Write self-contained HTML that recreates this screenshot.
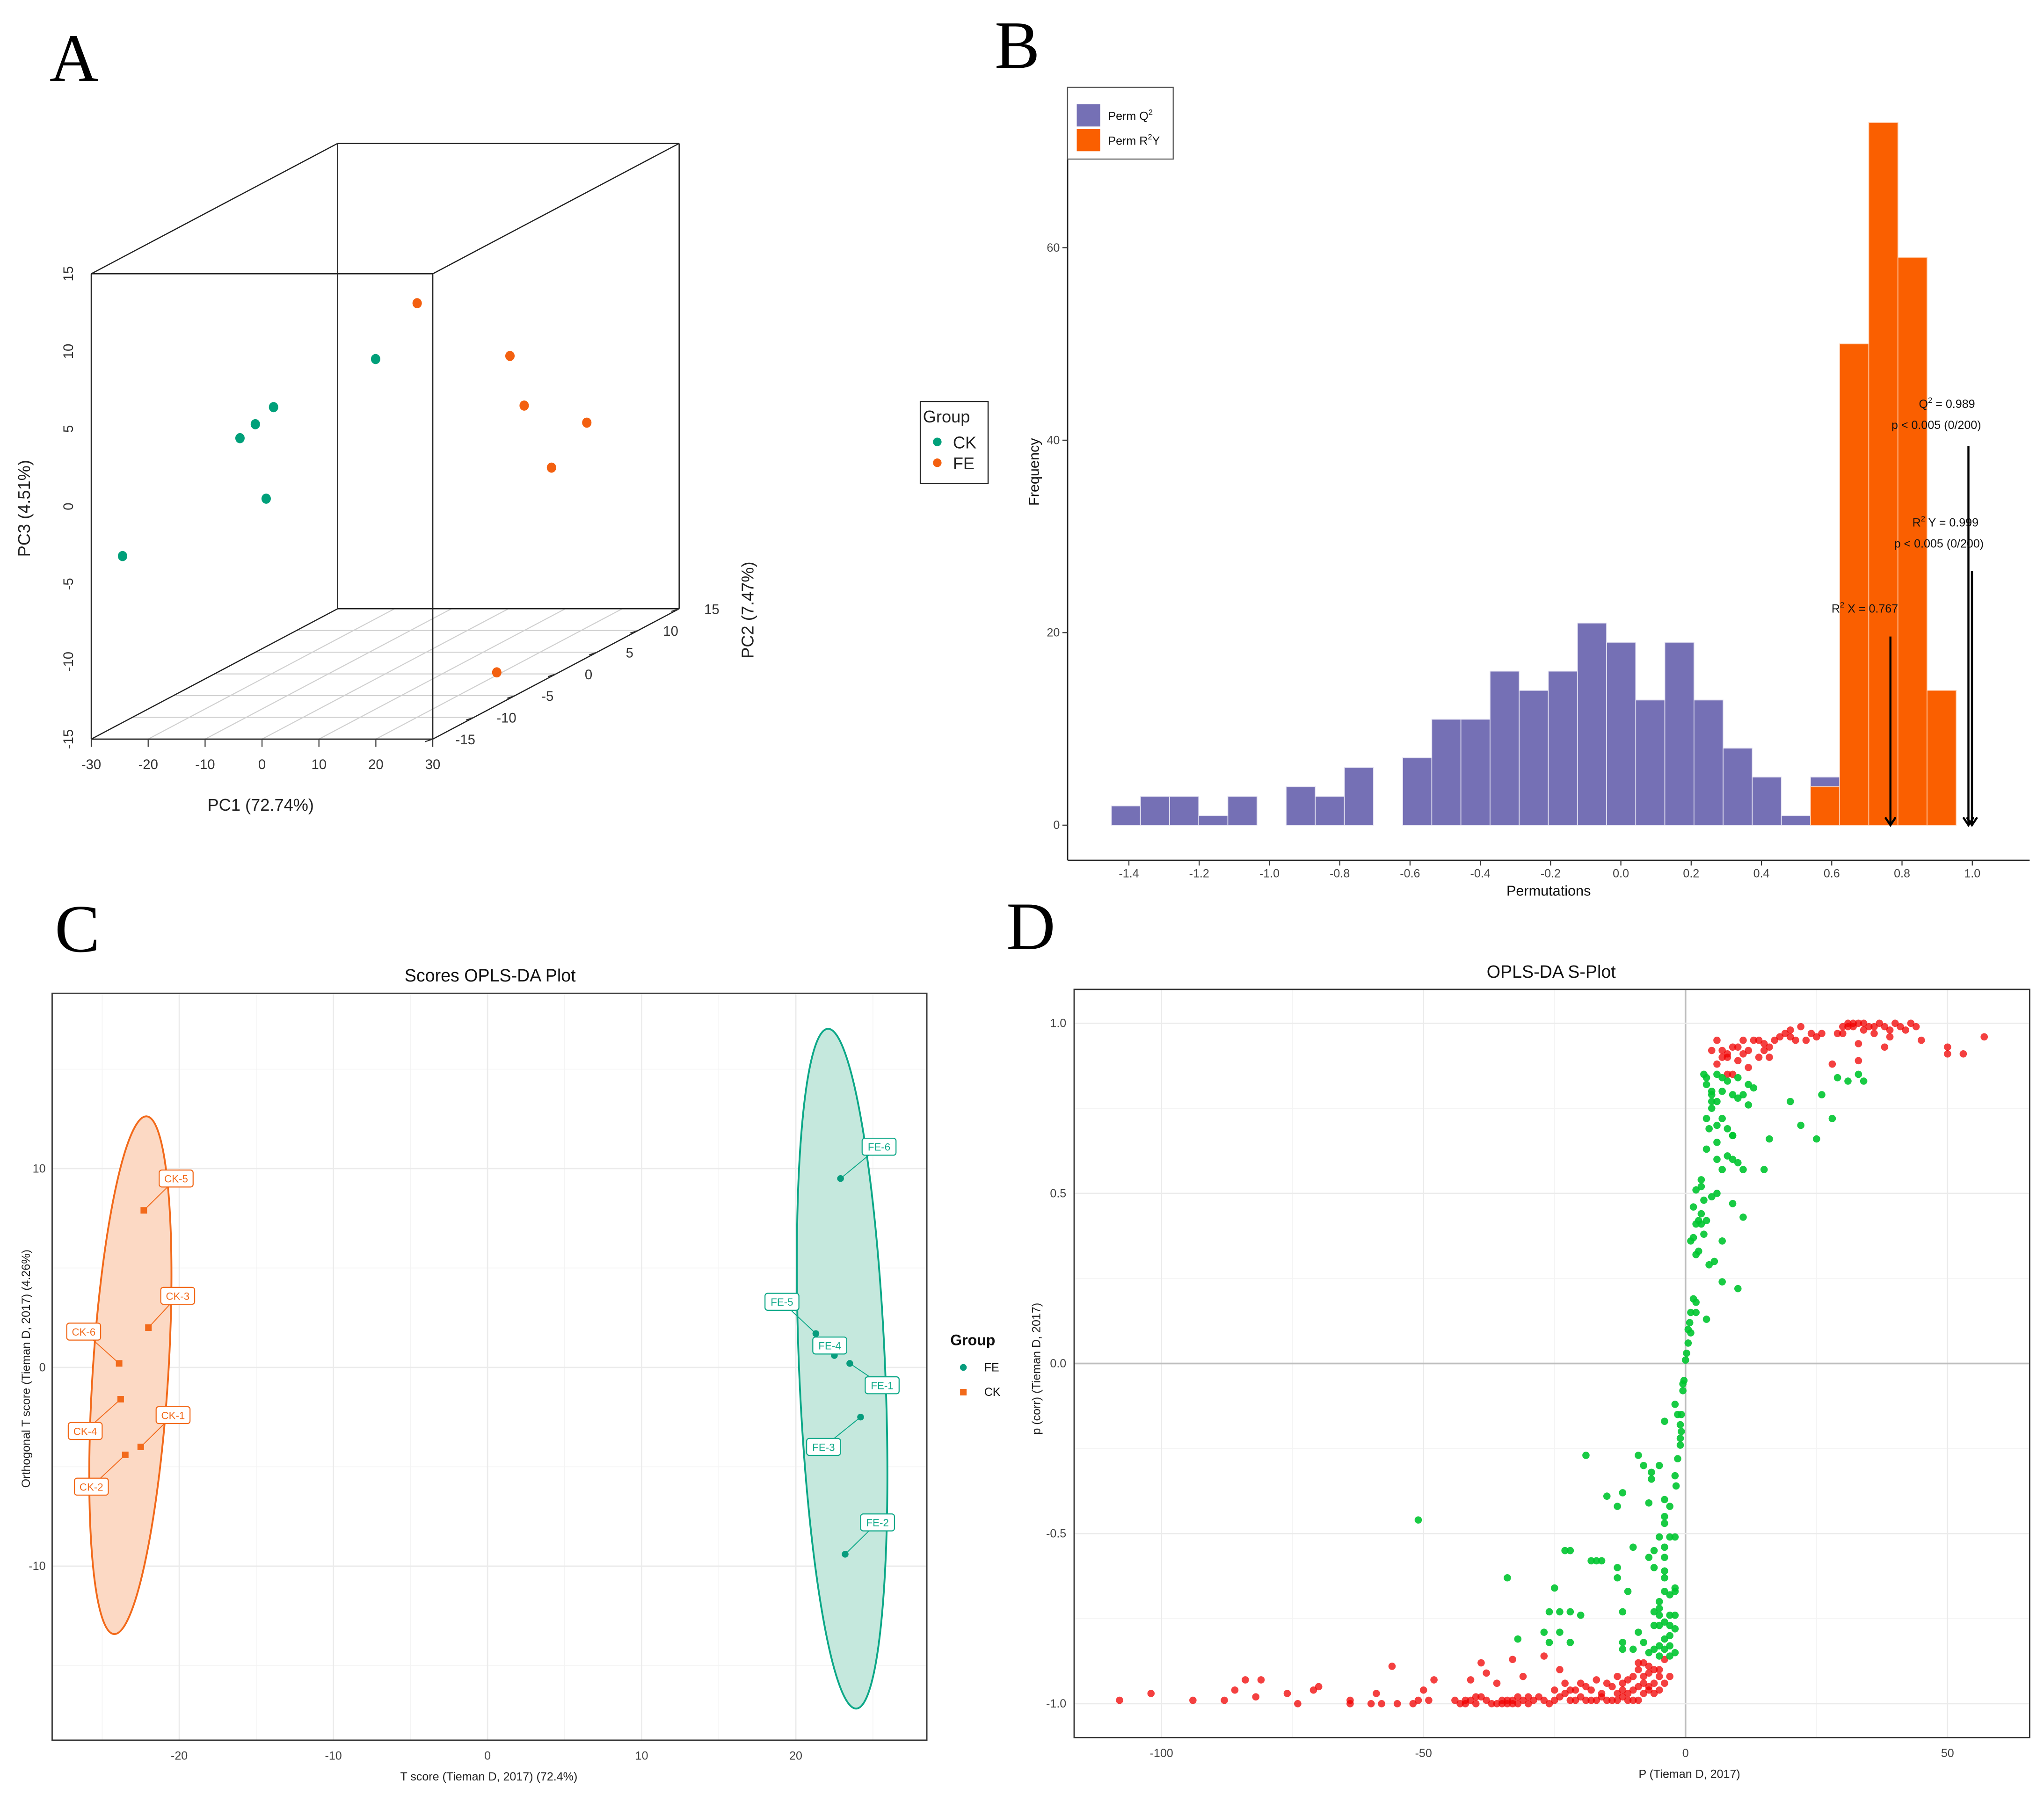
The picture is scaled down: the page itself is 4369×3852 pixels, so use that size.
<!DOCTYPE html>
<html><head><meta charset="utf-8"><style>
html,body{margin:0;padding:0;background:#fff;}
svg{display:block;font-family:"Liberation Sans",sans-serif;}
</style></head><body>
<svg id="fig" width="4369" height="3852" viewBox="0 0 1568 1382.4" xmlns="http://www.w3.org/2000/svg"></svg>
<script>
// ---------- DATA ----------
// Panel A (PCA 3D)
const pcaGroups = ["CK","CK","CK","CK","CK","CK","FE","FE","FE","FE","FE","FE"];
const pc1Vals = [-24.5,-18.3,-15.6,-12.4,-13.7,-8.9,-1.6,14.7,17.2,28.2,22,19.6];
const pc2Vals = [-15,-5,-5,-5,-5,5,5,5,5,5,5,0];
const pc3Vals = [-3.2,1.6,2.5,3.6,-2.3,3.9,7.5,4.1,0.9,-0.2,-3.1,-14.9];
const pc1Ticks = [-30,-20,-10,0,10,20,30];
const pc2Ticks = [-15,-10,-5,0,5,10,15];
const pc3Ticks = [-15,-10,-5,0,5,10,15];
// Panel B (permutation histogram)
const binStart = -1.45, binWidth = 0.0829;
const permQ2Counts = [2,3,3,1,3,0,4,3,6,0,7,11,11,16,14,16,21,19,13,19,13,8,5,1,5];
const permR2YCounts = [4,50,73,59,14];
const permR2YStartBin = 24;
const permXTicks = [-1.4,-1.2,-1.0,-0.8,-0.6,-0.4,-0.2,0.0,0.2,0.4,0.6,0.8,1.0];
const permYTicks = [0,20,40,60];
const arrowX = [0.767,0.989,0.999];
const arrowTop = [19.6,39.4,26.4];
// Panel C (scores)
const scoreLabels = ["CK-1","CK-2","CK-3","CK-4","CK-5","CK-6","FE-1","FE-2","FE-3","FE-4","FE-5","FE-6"];
const scoreT = [-22.5,-23.5,-22,-23.8,-22.3,-23.9,23.5,23.2,24.2,22.5,21.3,22.9];
const scoreO = [-4.0,-4.4,2.0,-1.6,7.9,0.2,0.2,-9.4,-2.5,0.6,1.7,9.5];
const labelT = [-20.4,-25.7,-20.1,-26.1,-20.2,-26.2,25.6,25.3,21.8,22.2,19.1,25.4];
const labelO = [-2.4,-6.0,3.6,-3.2,9.5,1.8,-0.9,-7.8,-4.0,1.1,3.3,11.1];
const cXTicks = [-20,-10,0,10,20];
const cYTicks = [-10,0,10];
// Panel D (S-plot)
const sRed = [[-108,-0.99],[-102,-0.97],[-94,-0.99],[-88,-0.99],[-86,-0.96],[-84,-0.93],[-82,-0.98],[-81,-0.93],[-76,-0.97],[-74,-1.0],[-71,-0.96],[-70,-0.95],[-64,-0.99],[-64,-1.0],[-60,-1.0],[-59,-0.97],[-58,-1.0],[-56,-0.89],[-55,-1.0],[-52,-1.0],[-51,-0.99],[-50,-0.96],[-49,-0.99],[-48,-0.93],[-44,-0.99],[-43,-1.0],[-42,-0.99],[-41,-0.93],[-40,-1.0],[-39,-0.98],[-38,-0.91],[-37,-1.0],[-36,-0.94],[-35,-0.99],[-34,-1.0],[-33,-0.99],[-32,-0.98],[-31,-0.99],[-30,-1.0],[-29,-0.99],[-28,-0.98],[-26,-1.0],[-25,-0.96],[-24,-0.9],[-23,-0.97],[-22,-0.99],[-21,-0.96],[-20,-0.98],[-19,-0.95],[-18,-0.99],[-17,-0.93],[-16,-0.97],[-15,-0.99],[-14,-0.95],[-13,-0.92],[-12,-0.98],[-11,-0.93],[-10,-0.96],[-9,-0.88],[-8,-0.92],[-7,-0.95],[-6,-0.9],[-5,-0.96],[-4,-0.87],[-3,-0.92],[-33,-0.87],[-27,-0.86],[-31,-0.92],[-39,-0.88],[-42,-1.0],[-41,-0.99],[-40,-0.98],[-38,-0.99],[-36,-1.0],[-35,-1.0],[-34,-0.99],[-33,-1.0],[-32,-1.0],[-30,-0.98],[-27,-0.99],[-25,-0.99],[-24,-0.98],[-23,-0.94],[-22,-0.96],[-21,-0.99],[-20,-0.94],[-19,-0.99],[-18,-0.96],[-17,-0.99],[-16,-0.98],[-15,-0.94],[-14,-0.99],[-13,-0.97],[-12,-0.94],[-11,-0.99],[-10,-0.92],[-9,-0.95],[-8,-0.97],[-7,-0.91],[-6,-0.94],[-5,-0.92],[-4,-0.94],[-12,-0.96],[-11,-0.97],[-10,-0.99],[-9,-0.9],[-8,-0.88],[-7,-0.96],[-6,-0.97],[-9,-0.99],[-13,-0.99],[-8,-0.94],[-7,-0.89],[-5,-0.9],
[5,0.92],[6,0.95],[7,0.9],[8,0.91],[9,0.85],[10,0.93],[11,0.95],[12,0.92],[13,0.95],[14,0.9],[15,0.92],[16,0.93],[17,0.95],[18,0.96],[19,0.97],[20,0.96],[22,0.99],[23,0.95],[24,0.97],[26,0.97],[28,0.88],[29,0.97],[30,0.99],[31,1.0],[32,0.99],[33,1.0],[34,0.98],[35,0.99],[36,0.97],[37,1.0],[38,0.99],[39,0.98],[40,1.0],[41,0.99],[42,0.98],[43,1.0],[45,0.95],[50,0.93],[53,0.91],[57,0.96],[33,0.94],[33,0.89],[38,0.93],[8,0.85],[10,0.89],[16,0.9],[12,0.87],[6,0.88],[9,0.93],[14,0.95],[21,0.95],[25,0.96],[39,0.96],[31,0.99],[32,1.0],[34,1.0],[36,0.99],[44,0.99],[50,0.91],[7,0.92],[8,0.9],[11,0.91],[15,0.94],[20,0.98],[30,0.97]];
const sGreen = [[3.5,0.85],[4,0.82],[5,0.8],[6,0.77],[7,0.8],[5,0.75],[4,0.72],[4.5,0.69],[6,0.7],[7,0.72],[8,0.69],[9,0.67],[6,0.65],[4,0.63],[6,0.6],[7,0.57],[9,0.6],[11,0.57],[3,0.54],[3,0.52],[2,0.51],[3.5,0.48],[5,0.49],[6,0.5],[9,0.47],[11,0.43],[1.5,0.46],[2.5,0.42],[3,0.44],[1.5,0.37],[3.5,0.38],[2.5,0.33],[7,0.36],[4.5,0.29],[5.5,0.3],[7,0.24],[10,0.22],[1.5,0.19],[2,0.18],[1,0.15],[2,0.15],[4,0.13],[0.5,0.1],[1,0.09],[0.5,0.06],[0.2,0.03],[0,0.01],[-0.3,-0.05],[-0.5,-0.06],[-2,-0.12],[-1.5,-0.15],[-0.8,-0.15],[-0.8,-0.2],[-1,-0.22],[-1,-0.24],[-1.5,-0.28],[-2,-0.33],[-1.8,-0.36],[-4,-0.17],[-5,-0.3],[-6.5,-0.32],[-6.5,-0.34],[-9,-0.27],[-4,-0.4],[-3,-0.42],[-4,-0.45],[-4,-0.47],[-2,-0.51],[-3,-0.51],[-5,-0.51],[-4,-0.54],[-4,-0.57],[-4,-0.61],[-4,-0.63],[-2,-0.67],[-2,-0.66],[-3,-0.68],[-4,-0.67],[-5,-0.7],[-5,-0.72],[-6,-0.73],[-5,-0.74],[-3,-0.74],[-2,-0.74],[-6,-0.77],[-5,-0.77],[-2,-0.78],[-3,-0.8],[-4,-0.81],[-5,-0.83],[-4,-0.84],[-2,-0.85],[-3,-0.86],[-6,-0.84],[-7,-0.85],[-8,-0.82],[-9,-0.79],[-6,-0.6],[-7,-0.57],[-6,-0.55],[-7,-0.41],[-8,-0.3],[-12,-0.38],[-13,-0.42],[-15,-0.39],[-19,-0.27],[-10,-0.54],[-13,-0.6],[-13,-0.63],[-11,-0.67],[-12,-0.73],[-16,-0.58],[-17,-0.58],[-18,-0.58],[-22,-0.55],[-23,-0.55],[-25,-0.66],[-26,-0.73],[-24,-0.73],[-22,-0.73],[-20,-0.74],[-27,-0.79],[-26,-0.82],[-24,-0.79],[-22,-0.82],[-34,-0.63],[-32,-0.81],[-12,-0.82],[-12,-0.84],[-10,-0.84],[-51,-0.46],[10,0.84],[12,0.82],[11,0.79],[12,0.76],[13,0.81],[16,0.66],[15,0.57],[20,0.77],[22,0.7],[25,0.66],[26,0.79],[28,0.72],[29,0.84],[31,0.83],[33,0.85],[34,0.83],[9,0.79],[10,0.78],[8,0.83],[7,0.84],[6,0.85],[5,0.79],[8,0.61],[9,0.67],[10,0.59],[4,0.84],[5,0.77],[2,0.41],[3,0.41],[4,0.42],[1,0.36],[2,0.32],[0.8,0.12],[-0.5,-0.08],[-1,-0.18],[-3,-0.77],[-4,-0.76],[-3,-0.83],[-5,-0.86]];
const dXTicks = [-100,-50,0,50];
const dYTicks = [-1.0,-0.5,0.0,0.5,1.0];

// ---------- HELPERS ----------
const NS = "http://www.w3.org/2000/svg";
const svg = document.getElementById('fig');
function mk(tag, attrs, parent, text){
  const e = document.createElementNS(NS, tag);
  for (const k in attrs) e.setAttribute(k, attrs[k]);
  if (text !== undefined) e.textContent = text;
  (parent || svg).appendChild(e);
  return e;
}
function grp(name){
  const g = mk('g', {});
  
  
  return g;
}
let el;

// ---------- PANEL LETTERS ----------
const letters = [["A",38,62],["B",763,52],["C",42,730],["D",772,728]];
const lettersG = grp('panel-letters');
letters.forEach(l => {
  el = mk('text', {x:l[1], y:l[2], 'font-family':'"Liberation Serif",serif', 'font-size':52, fill:'#000'}, lettersG, l[0]);
  
  
});

// ---------- PANEL A ----------
const gA = grp('pca-3d-panel');
function proj(p1,p2,p3){
  const d = (p2+15)/30;
  return [70 + (p1+30)*262/60 + d*189, 567 - (p3+15)*357/30 - d*100];
}
// floor grid
pc1Ticks.forEach(t => {
  const a = proj(t,-15,-15), b = proj(t,15,-15);
  el = mk('line', {x1:a[0],y1:a[1],x2:b[0],y2:b[1],stroke:'#d0d0d0','stroke-width':0.8}, gA);
  
  
});
pc2Ticks.forEach(t => {
  const a = proj(-30,t,-15), b = proj(30,t,-15);
  el = mk('line', {x1:a[0],y1:a[1],x2:b[0],y2:b[1],stroke:'#d0d0d0','stroke-width':0.8}, gA);
  
  
});
// box edges
const corners = [];
[-15,15].forEach(p2 => [-15,15].forEach(p3 => [-30,30].forEach(p1 => corners.push([p1,p2,p3]))));
const edges = [];
for (let i=0;i<8;i++) for (let j=i+1;j<8;j++){
  const a=corners[i], b=corners[j];
  let diff=0; for(let k=0;k<3;k++) if(a[k]!==b[k]) diff++;
  if (diff===1) edges.push([a,b]);
}
edges.forEach(e => {
  const a = proj(...e[0]), b = proj(...e[1]);
  el = mk('line', {x1:a[0],y1:a[1],x2:b[0],y2:b[1],stroke:'#222','stroke-width':0.9}, gA);
  
  
});
// PC1 ticks
pc1Ticks.forEach(t => {
  const a = proj(t,-15,-15);
  el = mk('line', {x1:a[0],y1:a[1],x2:a[0],y2:a[1]+6,stroke:'#333','stroke-width':0.8}, gA);
  
  
  el = mk('text', {x:a[0],y:a[1]+23,'font-size':10.5,'text-anchor':'middle',fill:'#333'}, gA, String(t));
  
  
});
// PC2 ticks
pc2Ticks.forEach(t => {
  const a = proj(30,t,-15);
  el = mk('line', {x1:a[0],y1:a[1],x2:a[0]-6,y2:a[1]+2,stroke:'#333','stroke-width':0.8}, gA);
  
  
  el = mk('text', {x:a[0]+25,y:a[1]+4,'font-size':10.5,'text-anchor':'middle',fill:'#333'}, gA, String(t));
  
  
});
// PC3 ticks
pc3Ticks.forEach(t => {
  const a = proj(-30,-15,t);
  el = mk('text', {x:0,y:0,'font-size':10.5,'text-anchor':'middle',fill:'#333',transform:`translate(${a[0]-14},${a[1]}) rotate(-90)`}, gA, String(t));
  
  
});
el = mk('text', {x:200,y:622,'font-size':13,'text-anchor':'middle',fill:'#222'}, gA, 'PC1 (72.74%)');


el = mk('text', {x:0,y:0,'font-size':13,'text-anchor':'middle',fill:'#222',transform:'translate(23,390) rotate(-90)'}, gA, 'PC3 (4.51%)');


el = mk('text', {x:0,y:0,'font-size':13,'text-anchor':'middle',fill:'#222',transform:'translate(578,468) rotate(-90)'}, gA, 'PC2 (7.47%)');


const pcaColors = {CK:'#00a07a', FE:'#f36010'};
pc1Vals.forEach((v,i) => {
  const p = proj(v, pc2Vals[i], pc3Vals[i]);
  el = mk('ellipse', {cx:p[0],cy:p[1],rx:3.6,ry:3.9,fill:pcaColors[pcaGroups[i]]}, gA);
  
  
});
// legend A
const lgA = grp('pca-legend');
el = mk('rect', {x:706,y:308,width:52,height:63,fill:'#fff',stroke:'#222','stroke-width':0.9}, lgA);


el = mk('text', {x:708,y:324,'font-size':13,fill:'#222'}, lgA, 'Group');


[['CK',340],['FE',356]].forEach(r => {
  el = mk('circle', {cx:719,cy:r[1]-1,r:3.3,fill:pcaColors[r[0]]}, lgA);
  
  
  el = mk('text', {x:731,y:r[1]+4,'font-size':13,fill:'#222'}, lgA, r[0]);
  
  
});

// ---------- PANEL B ----------
const gB = grp('permutation-histogram-panel');
const bx = v => 866 + (v + 1.4) * (1513 - 866) / 2.4;
const by = v => 633 - v * (633 - 190) / 60;
permQ2Counts.forEach((c,i) => {
  if (!c) return;
  const x0 = bx(binStart + i*binWidth), x1 = bx(binStart + (i+1)*binWidth);
  el = mk('rect', {x:x0,y:by(c),width:x1-x0,height:by(0)-by(c),fill:'#7570b5',stroke:'#e6e4f2','stroke-width':0.6}, gB);
  
  
});
permR2YCounts.forEach((c,i) => {
  const k = permR2YStartBin + i;
  const x0 = bx(binStart + k*binWidth), x1 = bx(binStart + (k+1)*binWidth);
  el = mk('rect', {x:x0,y:by(c),width:x1-x0,height:by(0)-by(c),fill:'#fa5f00',stroke:'#ffd0b0','stroke-width':0.6}, gB);
  
  
});
// axes
el = mk('line', {x1:819,y1:67,x2:819,y2:660,stroke:'#222','stroke-width':1}, gB);


el = mk('line', {x1:819,y1:660,x2:1557,y2:660,stroke:'#222','stroke-width':1}, gB);


permXTicks.forEach(t => {
  el = mk('line', {x1:bx(t),y1:660,x2:bx(t),y2:664,stroke:'#333','stroke-width':0.8}, gB);
  
  
  el = mk('text', {x:bx(t),y:673,'font-size':9,'text-anchor':'middle',fill:'#444'}, gB, t.toFixed(1));
  
  
});
permYTicks.forEach(t => {
  el = mk('line', {x1:815,y1:by(t),x2:819,y2:by(t),stroke:'#333','stroke-width':0.8}, gB);
  
  
  el = mk('text', {x:813,y:by(t)+3,'font-size':9,'text-anchor':'end',fill:'#444'}, gB, String(t));
  
  
});
el = mk('text', {x:1188,y:687,'font-size':11,'text-anchor':'middle',fill:'#111'}, gB, 'Permutations');


el = mk('text', {x:0,y:0,'font-size':11,'text-anchor':'middle',fill:'#111',transform:'translate(797,362) rotate(-90)'}, gB, 'Frequency');


arrowX.forEach((v,i) => {
  const x = bx(v);
  el = mk('line', {x1:x,y1:by(arrowTop[i]),x2:x,y2:by(0)-1,stroke:'#000','stroke-width':1.6}, gB);
  
  
  el = mk('path', {d:`M${x-4},${by(0)-6} L${x},${by(0)} L${x+4},${by(0)-6}`,fill:'none',stroke:'#000','stroke-width':1.6}, gB);
  
  
});
const annB = [['Q','2',' = 0.989',1472,313],['p < 0.005 (0/200)','','',1451,329],['R','2',' Y = 0.999',1467,404],['p < 0.005 (0/200)','','',1453,420],['R','2',' X = 0.767',1405,470]];
annB.forEach(a => {
  el = mk('text', {x:a[3],y:a[4],'font-size':9,fill:'#111'}, gB);
  
  
  mk('tspan', {}, el, a[0]);
  if (a[1]) { mk('tspan', {dy:-4,'font-size':6}, el, a[1]); mk('tspan', {dy:4}, el, a[2]); }
});
// legend B
const lgB = grp('permutation-legend');
el = mk('rect', {x:819,y:67,width:81,height:55,fill:'#fff',stroke:'#555','stroke-width':0.8}, lgB);


[['#7570b5','Perm Q',80,'q2'],['#fa5f00','Perm R',99,'r2y']].forEach(r => {
  el = mk('rect', {x:826,y:r[2],width:18,height:17,fill:r[0]}, lgB);
  
  
  el = mk('text', {x:850,y:r[2]+12,'font-size':9,fill:'#111'}, lgB);
  
  
  mk('tspan', {}, el, r[1]);
  mk('tspan', {dy:-4,'font-size':6}, el, '2');
  if (r[3]==='r2y') mk('tspan', {dy:4}, el, 'Y');
});

// ---------- PANEL C ----------
const gC = grp('opls-da-scores-panel');
const cx = v => 374 + v * (611 - 138) / 40;
const cy = v => 1049 - v * (1201 - 896) / 20;
const cL=40, cR=711, cT=762, cB=1335;
el = mk('rect', {x:cL,y:cT,width:cR-cL,height:cB-cT,fill:'#fff'}, gC);


[-25,-15,-5,5,15,25].forEach(t => {
  el = mk('line', {x1:cx(t),y1:cT,x2:cx(t),y2:cB,stroke:'#f4f4f4','stroke-width':0.6}, gC);
  
  
});
[-15,-5,5,15].forEach(t => {
  el = mk('line', {x1:cL,y1:cy(t),x2:cR,y2:cy(t),stroke:'#f4f4f4','stroke-width':0.6}, gC);
  
  
});
cXTicks.forEach(t => {
  el = mk('line', {x1:cx(t),y1:cT,x2:cx(t),y2:cB,stroke:'#ebebeb','stroke-width':1}, gC);
  
  
  el = mk('text', {x:cx(t),y:1350,'font-size':9,'text-anchor':'middle',fill:'#444'}, gC, String(t));
  
  
});
cYTicks.forEach(t => {
  el = mk('line', {x1:cL,y1:cy(t),x2:cR,y2:cy(t),stroke:'#ebebeb','stroke-width':1}, gC);
  
  
  el = mk('text', {x:35,y:cy(t)+3,'font-size':9,'text-anchor':'end',fill:'#444'}, gC, String(t));
  
  
});
el = mk('ellipse', {cx:100,cy:1055,rx:29,ry:199,fill:'#fcd9c4',stroke:'#f26a1b','stroke-width':1.4,transform:'rotate(3.6 100 1055)'}, gC);


el = mk('ellipse', {cx:646,cy:1050,rx:33,ry:261,fill:'#c5e8dd',stroke:'#0da888','stroke-width':1.4,transform:'rotate(-2.4 646 1050)'}, gC);


el = mk('rect', {x:cL,y:cT,width:cR-cL,height:cB-cT,fill:'none',stroke:'#333','stroke-width':1}, gC);


scoreT.forEach((v,i) => {
  const isCK = scoreLabels[i].startsWith('CK');
  const col = isCK ? '#f26a1b' : '#0da888';
  const px = cx(v), py = cy(scoreO[i]), lx = cx(labelT[i]), ly = cy(labelO[i]);
  el = mk('line', {x1:px,y1:py,x2:lx,y2:ly,stroke:col,'stroke-width':0.7}, gC);
  
  
  if (isCK) el = mk('rect', {x:px-2.5,y:py-2.5,width:5,height:5,fill:col}, gC);
  else el = mk('circle', {cx:px,cy:py,r:2.6,fill:'#079c7d'}, gC);
  
  
  el = mk('rect', {x:lx-13,y:ly-6.5,width:26,height:13,rx:2,fill:'#fff',stroke:col,'stroke-width':0.8}, gC);
  
  
  el = mk('text', {x:lx,y:ly+3,'font-size':8,'text-anchor':'middle',fill:col}, gC, scoreLabels[i]);
  
  
});
el = mk('text', {x:376,y:753,'font-size':13.5,'text-anchor':'middle',fill:'#111'}, gC, 'Scores OPLS-DA Plot');


el = mk('text', {x:375,y:1366,'font-size':9,'text-anchor':'middle',fill:'#222'}, gC, 'T score (Tieman D, 2017) (72.4%)');


el = mk('text', {x:0,y:0,'font-size':9,'text-anchor':'middle',fill:'#222',transform:'translate(23,1050) rotate(-90)'}, gC, 'Orthogonal T score (Tieman D, 2017) (4.26%)');


const lgC = grp('scores-legend');
el = mk('text', {x:729,y:1032,'font-size':11.5,'font-weight':'bold',fill:'#111'}, lgC, 'Group');


el = mk('circle', {cx:739,cy:1049,r:2.6,fill:'#079c7d'}, lgC);


el = mk('text', {x:755,y:1052,'font-size':9,fill:'#111'}, lgC, 'FE');


el = mk('rect', {x:736.5,y:1065.5,width:5,height:5,fill:'#f26a1b'}, lgC);


el = mk('text', {x:755,y:1071,'font-size':9,fill:'#111'}, lgC, 'CK');



// ---------- PANEL D ----------
const gD = grp('opls-da-s-plot-panel');
const dx = v => 1293 + v * (1494 - 891) / 150;
const dy = v => 1046 - v * (1307 - 785) / 2;
const dL=824, dR=1557, dT=759, dB=1333;
[-75,-25,25].forEach(t => {
  el = mk('line', {x1:dx(t),y1:dT,x2:dx(t),y2:dB,stroke:'#f4f4f4','stroke-width':0.6}, gD);
  
  
});
[-0.75,-0.25,0.25,0.75].forEach(t => {
  el = mk('line', {x1:dL,y1:dy(t),x2:dR,y2:dy(t),stroke:'#f4f4f4','stroke-width':0.6}, gD);
  
  
});
dXTicks.forEach(t => {
  el = mk('line', {x1:dx(t),y1:dT,x2:dx(t),y2:dB,stroke:t===0?'#bdbdbd':'#ebebeb','stroke-width':t===0?1.3:1}, gD);
  
  
  el = mk('text', {x:dx(t),y:1348,'font-size':9,'text-anchor':'middle',fill:'#444'}, gD, String(t));
  
  
});
dYTicks.forEach(t => {
  el = mk('line', {x1:dL,y1:dy(t),x2:dR,y2:dy(t),stroke:t===0?'#bdbdbd':'#ebebeb','stroke-width':t===0?1.3:1}, gD);
  
  
  el = mk('text', {x:818,y:dy(t)+3,'font-size':9,'text-anchor':'end',fill:'#444'}, gD, t.toFixed(1));
  
  
});
sRed.forEach(p => {
  el = mk('circle', {cx:dx(p[0]),cy:dy(p[1]),r:2.8,fill:'#f00000','fill-opacity':0.75}, gD);
  
  
});
sGreen.forEach(p => {
  el = mk('circle', {cx:dx(p[0]),cy:dy(p[1]),r:2.8,fill:'#00c530','fill-opacity':0.9}, gD);
  
  
});
el = mk('rect', {x:dL,y:dT,width:dR-dL,height:dB-dT,fill:'none',stroke:'#333','stroke-width':1}, gD);


el = mk('text', {x:1190,y:750,'font-size':13.5,'text-anchor':'middle',fill:'#111'}, gD, 'OPLS-DA S-Plot');


el = mk('text', {x:1296,y:1364,'font-size':9,'text-anchor':'middle',fill:'#222'}, gD, 'P (Tieman D, 2017)');


el = mk('text', {x:0,y:0,'font-size':9,'text-anchor':'middle',fill:'#222',transform:'translate(798,1050) rotate(-90)'}, gD, 'p (corr) (Tieman D, 2017)');


</script>
</body></html>
